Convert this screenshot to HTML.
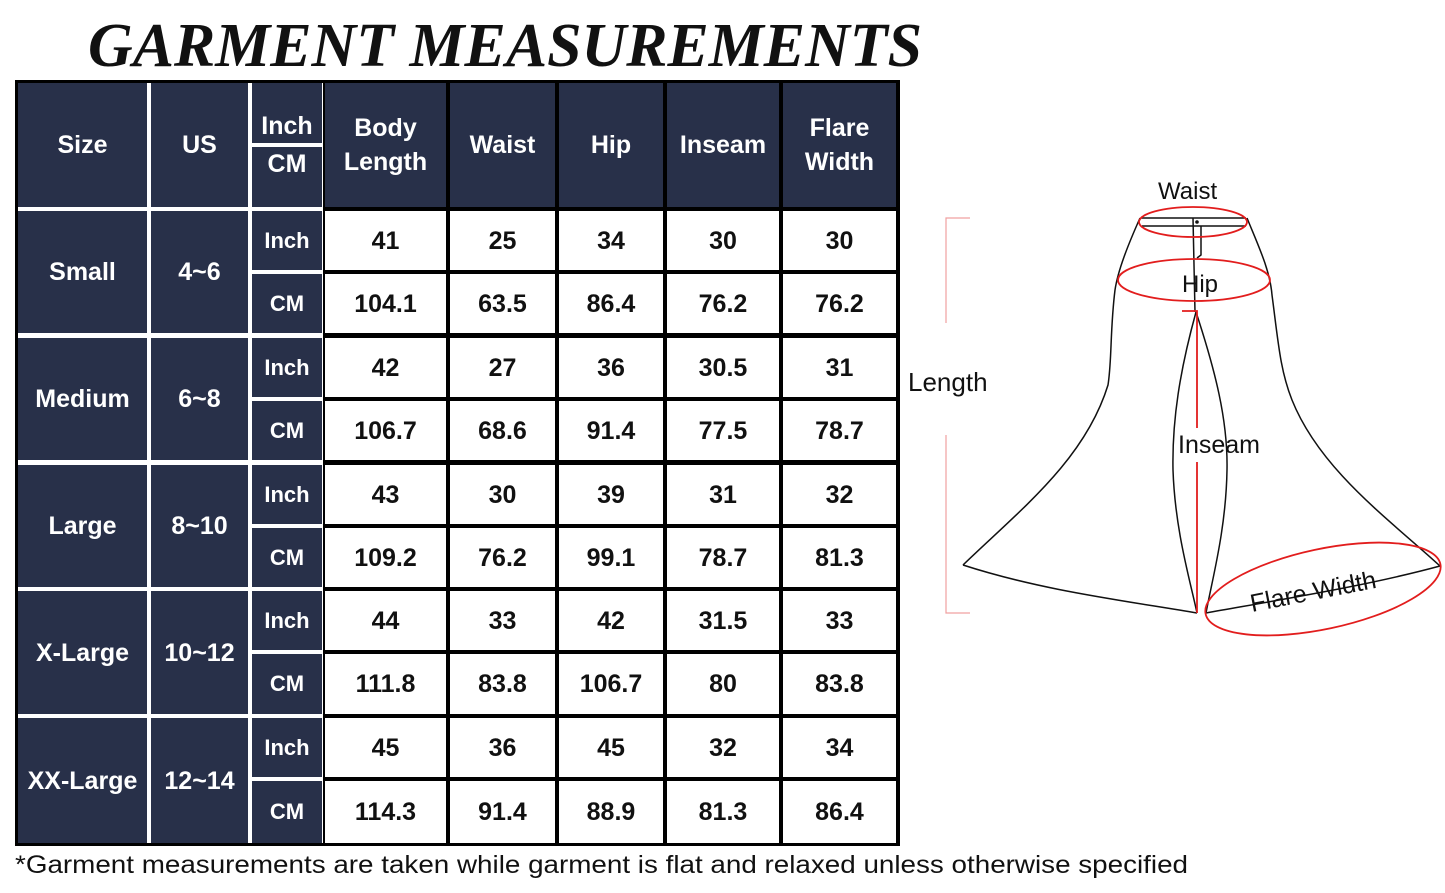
<!DOCTYPE html>
<html><head><meta charset="utf-8"><style>
body{margin:0;width:1445px;height:893px;background:#fff;position:relative;overflow:hidden;font-family:"Liberation Sans",sans-serif}
.c{position:absolute;display:flex;align-items:center;justify-content:center;text-align:center;font-weight:bold;line-height:34px}
.d{background:#283049;color:#fff;font-size:25px}
.u{background:#283049;color:#fff;font-size:22px}
.w{background:#fff;color:#111;font-size:25px}
</style></head><body>
<svg style="position:absolute;left:0;top:0" width="1445" height="80"><text x="88" y="66" font-family="Liberation Serif" font-style="italic" font-weight="600" font-size="62" textLength="834" lengthAdjust="spacingAndGlyphs" fill="#111">GARMENT MEASUREMENTS</text></svg>
<div style="position:absolute;left:15px;top:80px;width:885px;height:766px;background:#000"></div>
<div style="position:absolute;left:18px;top:83px;width:305px;height:760px;background:#fff"></div>

<div class="c d" style="left:18px;top:83px;width:129px;height:124px">Size</div>
<div class="c d" style="left:151px;top:83px;width:97px;height:124px">US</div>
<div class="c d" style="left:252px;top:83px;width:70px;height:60px;align-items:flex-end">Inch</div>
<div class="c d" style="left:252px;top:147px;width:70px;height:60px;align-items:flex-start">CM</div>
<div class="c d" style="left:325px;top:83px;width:121px;height:124px">Body<br>Length</div>
<div class="c d" style="left:450px;top:83px;width:105px;height:124px">Waist</div>
<div class="c d" style="left:559px;top:83px;width:104px;height:124px">Hip</div>
<div class="c d" style="left:667px;top:83px;width:112px;height:124px">Inseam</div>
<div class="c d" style="left:783px;top:83px;width:113px;height:124px">Flare<br>Width</div>

<!-- Small -->
<div class="c d" style="left:18px;top:211px;width:129px;height:122px">Small</div>
<div class="c d" style="left:151px;top:211px;width:97px;height:122px">4~6</div>
<div class="c u" style="left:252px;top:211px;width:70px;height:59px">Inch</div>
<div class="c u" style="left:252px;top:274px;width:70px;height:59px">CM</div>
<div class="c w" style="left:325px;top:211px;width:121px;height:59px">41</div>
<div class="c w" style="left:450px;top:211px;width:105px;height:59px">25</div>
<div class="c w" style="left:559px;top:211px;width:104px;height:59px">34</div>
<div class="c w" style="left:667px;top:211px;width:112px;height:59px">30</div>
<div class="c w" style="left:783px;top:211px;width:113px;height:59px">30</div>
<div class="c w" style="left:325px;top:274px;width:121px;height:59px">104.1</div>
<div class="c w" style="left:450px;top:274px;width:105px;height:59px">63.5</div>
<div class="c w" style="left:559px;top:274px;width:104px;height:59px">86.4</div>
<div class="c w" style="left:667px;top:274px;width:112px;height:59px">76.2</div>
<div class="c w" style="left:783px;top:274px;width:113px;height:59px">76.2</div>
<!-- Medium -->
<div class="c d" style="left:18px;top:338px;width:129px;height:122px">Medium</div>
<div class="c d" style="left:151px;top:338px;width:97px;height:122px">6~8</div>
<div class="c u" style="left:252px;top:338px;width:70px;height:59px">Inch</div>
<div class="c u" style="left:252px;top:401px;width:70px;height:59px">CM</div>
<div class="c w" style="left:325px;top:338px;width:121px;height:59px">42</div>
<div class="c w" style="left:450px;top:338px;width:105px;height:59px">27</div>
<div class="c w" style="left:559px;top:338px;width:104px;height:59px">36</div>
<div class="c w" style="left:667px;top:338px;width:112px;height:59px">30.5</div>
<div class="c w" style="left:783px;top:338px;width:113px;height:59px">31</div>
<div class="c w" style="left:325px;top:401px;width:121px;height:59px">106.7</div>
<div class="c w" style="left:450px;top:401px;width:105px;height:59px">68.6</div>
<div class="c w" style="left:559px;top:401px;width:104px;height:59px">91.4</div>
<div class="c w" style="left:667px;top:401px;width:112px;height:59px">77.5</div>
<div class="c w" style="left:783px;top:401px;width:113px;height:59px">78.7</div>
<!-- Large -->
<div class="c d" style="left:18px;top:465px;width:129px;height:122px">Large</div>
<div class="c d" style="left:151px;top:465px;width:97px;height:122px">8~10</div>
<div class="c u" style="left:252px;top:465px;width:70px;height:59px">Inch</div>
<div class="c u" style="left:252px;top:528px;width:70px;height:59px">CM</div>
<div class="c w" style="left:325px;top:465px;width:121px;height:59px">43</div>
<div class="c w" style="left:450px;top:465px;width:105px;height:59px">30</div>
<div class="c w" style="left:559px;top:465px;width:104px;height:59px">39</div>
<div class="c w" style="left:667px;top:465px;width:112px;height:59px">31</div>
<div class="c w" style="left:783px;top:465px;width:113px;height:59px">32</div>
<div class="c w" style="left:325px;top:528px;width:121px;height:59px">109.2</div>
<div class="c w" style="left:450px;top:528px;width:105px;height:59px">76.2</div>
<div class="c w" style="left:559px;top:528px;width:104px;height:59px">99.1</div>
<div class="c w" style="left:667px;top:528px;width:112px;height:59px">78.7</div>
<div class="c w" style="left:783px;top:528px;width:113px;height:59px">81.3</div>
<!-- X-Large -->
<div class="c d" style="left:18px;top:591px;width:129px;height:123px">X-Large</div>
<div class="c d" style="left:151px;top:591px;width:97px;height:123px">10~12</div>
<div class="c u" style="left:252px;top:591px;width:70px;height:59px">Inch</div>
<div class="c u" style="left:252px;top:654px;width:70px;height:60px">CM</div>
<div class="c w" style="left:325px;top:591px;width:121px;height:59px">44</div>
<div class="c w" style="left:450px;top:591px;width:105px;height:59px">33</div>
<div class="c w" style="left:559px;top:591px;width:104px;height:59px">42</div>
<div class="c w" style="left:667px;top:591px;width:112px;height:59px">31.5</div>
<div class="c w" style="left:783px;top:591px;width:113px;height:59px">33</div>
<div class="c w" style="left:325px;top:654px;width:121px;height:60px">111.8</div>
<div class="c w" style="left:450px;top:654px;width:105px;height:60px">83.8</div>
<div class="c w" style="left:559px;top:654px;width:104px;height:60px">106.7</div>
<div class="c w" style="left:667px;top:654px;width:112px;height:60px">80</div>
<div class="c w" style="left:783px;top:654px;width:113px;height:60px">83.8</div>
<!-- XX-Large -->
<div class="c d" style="left:18px;top:718px;width:129px;height:125px">XX-Large</div>
<div class="c d" style="left:151px;top:718px;width:97px;height:125px">12~14</div>
<div class="c u" style="left:252px;top:718px;width:70px;height:59px">Inch</div>
<div class="c u" style="left:252px;top:781px;width:70px;height:62px">CM</div>
<div class="c w" style="left:325px;top:718px;width:121px;height:59px">45</div>
<div class="c w" style="left:450px;top:718px;width:105px;height:59px">36</div>
<div class="c w" style="left:559px;top:718px;width:104px;height:59px">45</div>
<div class="c w" style="left:667px;top:718px;width:112px;height:59px">32</div>
<div class="c w" style="left:783px;top:718px;width:113px;height:59px">34</div>
<div class="c w" style="left:325px;top:781px;width:121px;height:62px">114.3</div>
<div class="c w" style="left:450px;top:781px;width:105px;height:62px">91.4</div>
<div class="c w" style="left:559px;top:781px;width:104px;height:62px">88.9</div>
<div class="c w" style="left:667px;top:781px;width:112px;height:62px">81.3</div>
<div class="c w" style="left:783px;top:781px;width:113px;height:62px">86.4</div>

<svg style="position:absolute;left:0;top:0" width="1445" height="893">
<text x="15" y="873" font-family="Liberation Sans, sans-serif" font-size="25" fill="#111" textLength="1173" lengthAdjust="spacingAndGlyphs">*Garment measurements are taken while garment is flat and relaxed unless otherwise specified</text>
<g fill="none" stroke="#111" stroke-width="1.5">
<path d="M1140 218 C1128 245 1118 270 1115 290 C1110 330 1112 360 1108 385 C1085 460 1020 510 963 565"/>
<path d="M1247 218 C1258 245 1270 270 1272 295 C1278 340 1280 370 1292 400 C1320 470 1390 520 1440 566"/>
<path d="M963 565 C1040 590 1120 600 1197 613"/>
<path d="M1206 613 C1290 598 1370 585 1440 566"/>
<path d="M1196 312 C1180 370 1172 420 1173 470 C1175 530 1190 580 1197 613"/>
<path d="M1196 312 C1215 370 1228 420 1227 470 C1226 530 1212 580 1206 613"/>
<path d="M1141 218 H1246 M1142 226 H1246 M1193 218 L1195 312 M1201 226 V255 L1197 258"/>
</g>
<circle cx="1197" cy="222" r="1.8" fill="#111"/>
<g fill="none" stroke="#e21d1d" stroke-width="1.8">
<ellipse cx="1193" cy="222" rx="54" ry="15"/>
<ellipse cx="1194" cy="280" rx="76" ry="21"/>
<ellipse cx="1323" cy="589" rx="120" ry="40" transform="rotate(-12 1323 589)"/>
<path d="M1182 311 H1197 V428 M1197 462 V613"/>
</g>
<g fill="none" stroke="#f0a0a0" stroke-width="1.2">
<path d="M970 218 H946 V323 M946 435 V613 H970"/>
</g>
<g font-family="Liberation Sans, sans-serif" font-size="24" fill="#111">
<text x="1158" y="199">Waist</text>
<text x="1182" y="292">Hip</text>
<text x="908" y="391" font-size="26">Length</text>
<text x="1178" y="453" font-size="25">Inseam</text>
<text x="1252" y="612" font-size="25" transform="rotate(-11 1252 612)">Flare Width</text>
</g>
</svg>
</body></html>
